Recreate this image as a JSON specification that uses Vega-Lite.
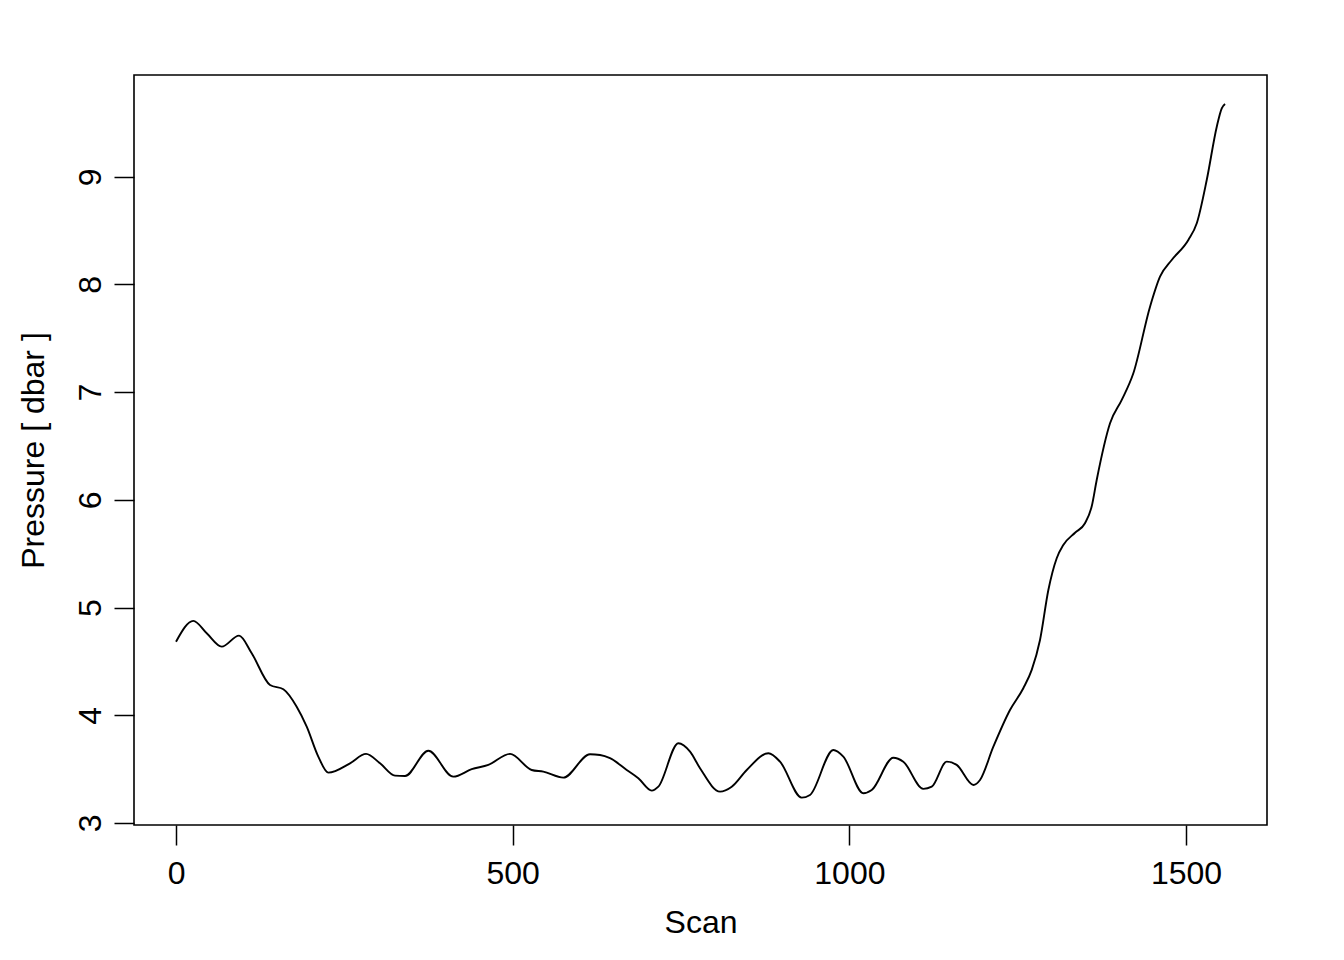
{
  "$schema": "https://vega.github.io/schema/vega-lite/v6.json",
  "width": 1133,
  "height": 750,
  "autosize": {"type": "none"},
  "padding": {"left": 134, "top": 75, "right": 77, "bottom": 135},
  "background": "white",
  "config": {
    "view": {"stroke": "black", "strokeWidth": 1.6},
    "font": "Liberation Sans",
    "axis": {
      "domain": false,
      "grid": false,
      "tickColor": "black",
      "tickWidth": 1.5,
      "tickSize": 20,
      "labelColor": "black",
      "labelFontSize": 32,
      "labelFont": "Liberation Sans",
      "titleColor": "black",
      "titleFontSize": 32,
      "titleFont": "Liberation Sans",
      "titleFontWeight": "normal",
      "labelFlush": false,
      "labelOverlap": false
    }
  },
  "data": {
    "values": [
      {"scan": 0, "pressure": 4.683},
      {"scan": 25.7, "pressure": 4.876},
      {"scan": 45.6, "pressure": 4.761},
      {"scan": 67.9, "pressure": 4.637},
      {"scan": 93.6, "pressure": 4.739},
      {"scan": 112.4, "pressure": 4.576},
      {"scan": 139.6, "pressure": 4.281},
      {"scan": 159.4, "pressure": 4.241},
      {"scan": 179.2, "pressure": 4.079},
      {"scan": 194.1, "pressure": 3.894},
      {"scan": 211.3, "pressure": 3.616},
      {"scan": 226.2, "pressure": 3.467},
      {"scan": 258.4, "pressure": 3.554},
      {"scan": 282.2, "pressure": 3.641},
      {"scan": 303.0, "pressure": 3.554},
      {"scan": 325.2, "pressure": 3.439},
      {"scan": 340.1, "pressure": 3.436},
      {"scan": 374.7, "pressure": 3.671},
      {"scan": 411.8, "pressure": 3.430},
      {"scan": 439.1, "pressure": 3.499},
      {"scan": 463.8, "pressure": 3.539},
      {"scan": 496.0, "pressure": 3.641},
      {"scan": 528.2, "pressure": 3.492},
      {"scan": 545.5, "pressure": 3.476},
      {"scan": 575.2, "pressure": 3.421},
      {"scan": 614.8, "pressure": 3.638},
      {"scan": 629.7, "pressure": 3.631},
      {"scan": 644.5, "pressure": 3.601},
      {"scan": 669.3, "pressure": 3.492},
      {"scan": 686.6, "pressure": 3.415},
      {"scan": 706.5, "pressure": 3.300},
      {"scan": 716.3, "pressure": 3.337},
      {"scan": 746.0, "pressure": 3.740},
      {"scan": 763.4, "pressure": 3.662},
      {"scan": 778.2, "pressure": 3.508},
      {"scan": 807.9, "pressure": 3.291},
      {"scan": 825.3, "pressure": 3.337},
      {"scan": 847.6, "pressure": 3.492},
      {"scan": 879.7, "pressure": 3.647},
      {"scan": 897.0, "pressure": 3.569},
      {"scan": 929.2, "pressure": 3.235},
      {"scan": 941.5, "pressure": 3.260},
      {"scan": 976.2, "pressure": 3.678},
      {"scan": 991.0, "pressure": 3.616},
      {"scan": 1020.7, "pressure": 3.276},
      {"scan": 1033.2, "pressure": 3.306},
      {"scan": 1065.3, "pressure": 3.606},
      {"scan": 1080.1, "pressure": 3.569},
      {"scan": 1109.8, "pressure": 3.316},
      {"scan": 1122.3, "pressure": 3.337},
      {"scan": 1144.6, "pressure": 3.569},
      {"scan": 1159.4, "pressure": 3.539},
      {"scan": 1184.1, "pressure": 3.353},
      {"scan": 1194.0, "pressure": 3.399},
      {"scan": 1213.8, "pressure": 3.708},
      {"scan": 1238.5, "pressure": 4.049},
      {"scan": 1258.3, "pressure": 4.251},
      {"scan": 1270.8, "pressure": 4.421},
      {"scan": 1283.1, "pressure": 4.699},
      {"scan": 1295.5, "pressure": 5.163},
      {"scan": 1307.9, "pressure": 5.458},
      {"scan": 1317.7, "pressure": 5.581},
      {"scan": 1335.1, "pressure": 5.695},
      {"scan": 1349.9, "pressure": 5.783},
      {"scan": 1359.9, "pressure": 5.940},
      {"scan": 1367.3, "pressure": 6.185},
      {"scan": 1387.1, "pressure": 6.711},
      {"scan": 1404.5, "pressure": 6.928},
      {"scan": 1421.7, "pressure": 7.175},
      {"scan": 1446.5, "pressure": 7.794},
      {"scan": 1461.3, "pressure": 8.072},
      {"scan": 1478.7, "pressure": 8.227},
      {"scan": 1503.4, "pressure": 8.413},
      {"scan": 1515.9, "pressure": 8.568},
      {"scan": 1530.7, "pressure": 8.970},
      {"scan": 1545.6, "pressure": 9.465},
      {"scan": 1553.0, "pressure": 9.636},
      {"scan": 1557.9, "pressure": 9.676}
    ]
  },
  "mark": {"type": "line", "color": "black", "strokeWidth": 1.9, "interpolate": "monotone"},
  "encoding": {
    "x": {
      "field": "scan",
      "type": "quantitative",
      "scale": {"domain": [-62.4, 1620.2], "nice": false, "zero": false},
      "axis": {
        "title": "Scan",
        "values": [0, 500, 1000, 1500],
        "format": "d",
        "labelBaseline": "middle",
        "labelPadding": 28,
        "titleX": 566.5,
        "titleY": 97,
        "titleBaseline": "middle",
        "titleAlign": "center"
      }
    },
    "y": {
      "field": "pressure",
      "type": "quantitative",
      "scale": {"domain": [2.981, 9.945], "nice": false, "zero": false},
      "axis": {
        "title": "Pressure [ dbar ]",
        "values": [3, 4, 5, 6, 7, 8, 9],
        "format": "d",
        "labelAngle": -90,
        "labelAlign": "center",
        "labelBaseline": "middle",
        "labelPadding": 24,
        "titleX": -101,
        "titleY": 375,
        "titleAngle": -90,
        "titleBaseline": "middle",
        "titleAlign": "center"
      }
    }
  }
}
